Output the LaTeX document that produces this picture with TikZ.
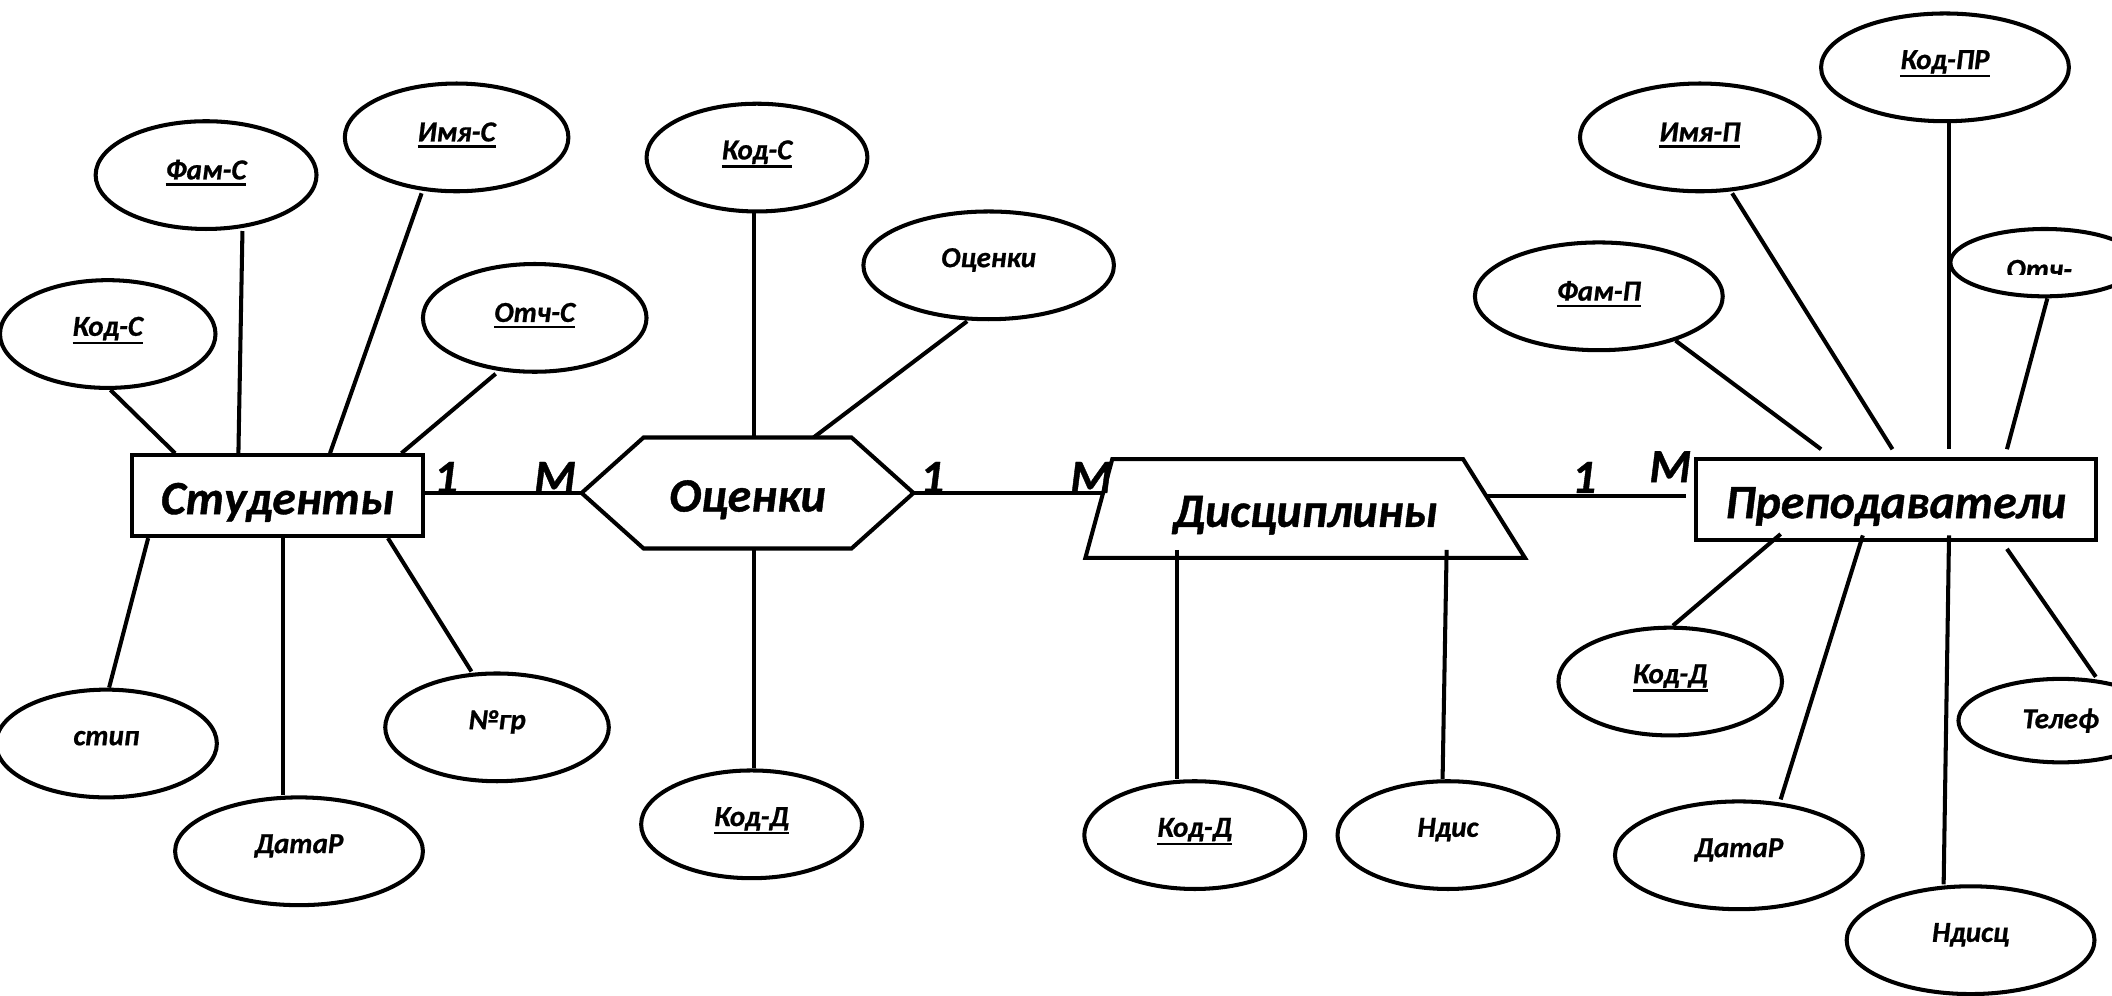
\documentclass[tikz,border=0pt]{standalone}
\usepackage{fontspec}
\setmainfont{Carlito}[BoldItalicFeatures={FakeBold=0.8}]
\usetikzlibrary{shapes.geometric}
\newcommand\myul[1]{\setbox0\hbox{#1}\dimen0=\dp0 \advance\dimen0 by 1pt \ifdim\dimen0<3pt \dimen0=3pt\fi \advance\dimen0 by 1.7pt \rlap{\smash{\rule[-\dimen0]{\wd0}{1.7pt}}}\box0}
\newcommand\atxt[1]{\raisebox{4pt}[\height][\depth]{#1}}
\newcommand\etxt[1]{\raisebox{-5pt}[\height][\depth]{#1}}
\begin{document}
\begin{tikzpicture}[x=1pt,y=-1pt,
  attr/.style={ellipse, draw, line width=3pt, inner sep=0pt, font=\fontsize{21.5}{26}\selectfont\bfseries\itshape},
  sz/.style 2 args={minimum width=#1pt, minimum height=#2pt},
  entfont/.style={inner sep=0pt, font=\fontsize{35.5}{42}\selectfont\bfseries\itshape},
  ent/.style={entfont, draw, line width=3pt},
  lnk/.style={line width=3pt},
  outline/.style={line width=3pt, line join=miter},
  card/.style={anchor=base, inner sep=0pt, font=\fontsize{35.5}{42}\selectfont\bfseries\itshape}]
\useasboundingbox (0,0) rectangle (1568,739);
\clip (0,0) rectangle (1568,739);
\fill[white] (0,0) rectangle (1568,739);

% entities
\node[ent, sz={216}{60}] (stud) at (206,368) {\etxt{Студенты}};
\node[entfont, sz={246}{82}] (oc) at (555,366) {\etxt{Оценки}};
\draw[outline] (oc.west) -- ([xshift=46pt]oc.north west) -- ([xshift=-46pt]oc.north east) -- (oc.east)
  -- ([xshift=-46pt]oc.south east) -- ([xshift=46pt]oc.south west) -- cycle;
\node[entfont, sz={326}{73}] (dis) at (969,377.5) {\etxt{Дисциплины}};
\draw[outline] (dis.south west) -- ([xshift=20pt]dis.north west) -- ([xshift=-46pt]dis.north east) -- (dis.south east) -- cycle;
\node[ent, sz={297}{60}] (prep) at (1407.5,371) {\etxt{Преподаватели}};

% relationship lines
\draw[lnk] ([yshift=2pt]stud.east) -- (oc.west);
\draw[lnk] (oc.east) -- ([xshift=14pt,yshift=11.5pt]dis.west);
\draw[lnk] ([xshift=-29pt,yshift=9.5pt]dis.east) -- ([xshift=-6pt,yshift=3pt]prep.west);
\node[card] (c1) at (331,366) {1};
\node[card] (c2) at (412,366) {M};
\node[card] (c3) at (692,366) {1};
\node[card] (c4) at (810,366) {M};
\node[card] (c5) at (1176,366) {1};
\node[card] (c6) at (1240,358) {M};

% Студенты attributes
\node[attr, sz={160}{80}] (kodc) at (80,248) {\atxt{\myul{Код-С}}};
\node[attr, sz={164}{80}] (famc) at (153,130) {\atxt{\myul{Фам-С}}};
\node[attr, sz={166}{80}] (imyac) at (339,102) {\atxt{\myul{Имя-С}}};
\node[attr, sz={166}{80}] (otchc) at (397,236) {\atxt{\myul{Отч-С}}};
\node[attr, sz={164}{80}] (stip) at (79,552) {\atxt{стип}};
\node[attr, sz={184}{80}] (datar) at (222,632) {\atxt{ДатаР}};
\node[attr, sz={166}{80}] (nogr) at (369,540) {\atxt{№гр}};
\draw[lnk] ([xshift=2pt]kodc.south) -- ([xshift=-76pt]stud.north);
\draw[lnk] ([xshift=27pt]famc.south) -- ([xshift=-29pt]stud.north);
\draw[lnk] ([xshift=-26pt]imyac.south) -- ([xshift=39pt]stud.north);
\draw[lnk] ([xshift=-29pt]otchc.south) -- ([xshift=92pt]stud.north);
\draw[lnk] ([xshift=-96pt]stud.south) -- ([xshift=2pt]stip.north);
\draw[lnk] ([xshift=4pt]stud.south) -- ([xshift=-12pt]datar.north);
\draw[lnk] ([xshift=82pt]stud.south) -- ([xshift=-19pt]nogr.north);

% Оценки attributes
\node[attr, sz={164}{80}] (kodc2) at (562,117) {\atxt{\myul{Код-С}}};
\node[attr, sz={186}{80}] (ocattr) at (734,197) {\atxt{Оценки}};
\node[attr, sz={164}{80}] (kodd) at (558,612) {\atxt{\myul{Код-Д}}};
\draw[lnk] ([xshift=-2pt]kodc2.south) -- ([xshift=5pt]oc.north);
\draw[lnk] ([xshift=-16pt]ocattr.south) -- ([xshift=49pt]oc.north);
\draw[lnk] ([xshift=5pt]oc.south) -- ([xshift=2pt]kodd.north);

% Дисциплины attributes
\node[attr, sz={164}{80}] (kodd2) at (887,620) {\atxt{\myul{Код-Д}}};
\node[attr, sz={164}{80}] (ndis) at (1075,620) {\atxt{Ндис}};
\draw[lnk] ([xshift=-95pt,yshift=6pt]dis.south) -- ([xshift=-13pt]kodd2.north);
\draw[lnk] ([xshift=105pt,yshift=6pt]dis.south) -- ([xshift=-4pt]ndis.north);

% Преподаватели attributes
\node[attr, sz={184}{80}] (kodpr) at (1444,50) {\atxt{\myul{Код-ПР}}};
\node[attr, sz={178}{80}] (imyap) at (1262,102) {\atxt{\myul{Имя-П}}};
\node[attr, sz={184}{80}] (famp) at (1187,220) {\atxt{\myul{Фам-П}}};
\node[attr, sz={140}{50}] (otchp) at (1518,195) {};
\begin{scope}
  \clip (1440,170) rectangle (1600,204);
  \node[anchor=base, inner sep=0pt, font=\fontsize{21.5}{26}\selectfont\bfseries\itshape] (otchtxt) at (1514,207) {Отч-};
\end{scope}
\node[attr, sz={166}{80}] (koddp) at (1240,506) {\atxt{\myul{Код-Д}}};
\node[attr, sz={184}{80}] (datarp) at (1291,635) {\atxt{ДатаР}};
\node[attr, sz={184}{80}] (ndisc) at (1463,698) {\atxt{Ндисц}};
\node[attr, sz={152}{62}] (telef) at (1530,535) {Телеф};
\draw[lnk] ([xshift=3pt]kodpr.south) -- ([xshift=39.5pt,yshift=6pt]prep.north);
\draw[lnk] ([xshift=24pt]imyap.south) -- ([xshift=-2.5pt,yshift=6pt]prep.north);
\draw[lnk] (famp.-30) -- ([xshift=-55.5pt,yshift=6pt]prep.north);
\draw[lnk] ([xshift=2pt]otchp.south) -- ([xshift=82.5pt,yshift=6pt]prep.north);
\draw[lnk] ([xshift=-85.5pt,yshift=6pt]prep.south) -- ([xshift=2pt]koddp.north);
\draw[lnk] ([xshift=-24.5pt,yshift=5pt]prep.south) -- ([xshift=31pt]datarp.north);
\draw[lnk] ([xshift=39.5pt,yshift=5pt]prep.south) -- ([xshift=-20pt]ndisc.north);
\draw[lnk] ([xshift=82.5pt,yshift=-5pt]prep.south) -- ([xshift=26pt]telef.north);
\end{tikzpicture}
\end{document}
